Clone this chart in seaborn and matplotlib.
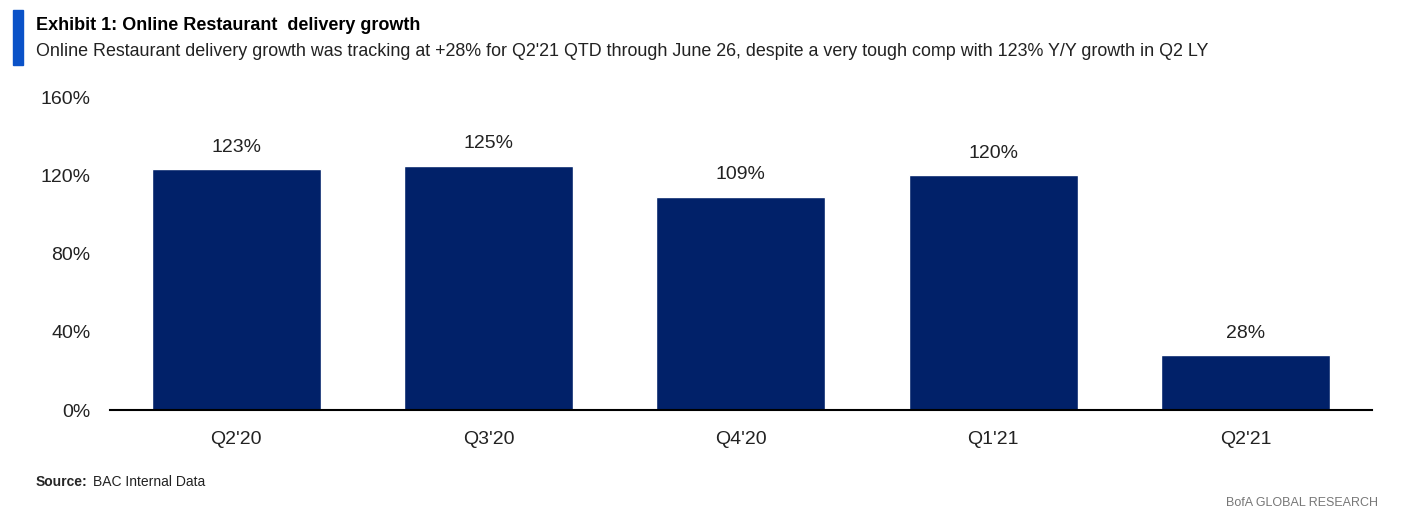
import matplotlib
matplotlib.use("Agg")
import matplotlib.pyplot as plt
import matplotlib.patches as mpatches
import seaborn as sns
import pandas as pd

quarters = ["Q2'20", "Q3'20", "Q4'20", "Q1'21", "Q2'21"]
growth = [123, 125, 109, 120, 28]
y_ticks = [0, 40, 80, 120, 160]

navy = "#012169"
fonts = ["Liberation Sans Narrow", "Liberation Sans", "DejaVu Sans"]

sns.set_theme(style="white")
plt.rcParams["font.family"] = fonts

df = pd.DataFrame({"Quarter": quarters, "Growth": growth})

fig = plt.figure(figsize=(14.04, 5.19), dpi=100)
ax = fig.add_axes([0.0783, 0.21, 0.8987, 0.603])
sns.barplot(data=df, x="Quarter", y="Growth", color=navy, width=0.67,
            saturation=1, ax=ax)

# value labels above bars
for i, v in enumerate(growth):
    ax.text(i, v + 7, f"{v}%", ha="center", va="bottom", fontsize=14, color="#222222")

ax.set_xlim(-0.5, 4.5)
ax.set_ylim(0, 160)
ax.set_yticks(y_ticks)
ax.set_yticklabels([f"{t}%" for t in y_ticks])
ax.set_xlabel("")
ax.set_ylabel("")
ax.tick_params(axis="both", length=0, labelsize=14, colors="#222222")
ax.tick_params(axis="x", pad=15)
ax.tick_params(axis="y", pad=14)
for s in ["top", "right", "left"]:
    ax.spines[s].set_visible(False)
ax.spines["bottom"].set_color("#000000")
ax.spines["bottom"].set_linewidth(1.5)

# header
fig.patches.append(mpatches.Rectangle((13 / 1404, 1 - 65 / 519), 10 / 1404, 55 / 519,
                                      transform=fig.transFigure, color="#0a52c8"))
fig.text(36 / 1404, 1 - 26 / 519, "Exhibit 1: Online Restaurant  delivery growth",
         fontsize=13, fontweight="bold", va="center", color="#000000")
fig.text(36 / 1404, 1 - 52 / 519,
         "Online Restaurant delivery growth was tracking at +28% for Q2'21 QTD through June 26, "
         "despite a very tough comp with 123% Y/Y growth in Q2 LY",
         fontsize=12.9, va="center", color="#222222")

# footer
src = fig.text(36 / 1404, 1 - 482 / 519, "Source:", fontsize=10, fontweight="bold", va="center")
ax.annotate("BAC Internal Data", xy=(1, 0.5), xycoords=src, xytext=(4, 0),
            textcoords="offset points", fontsize=10, va="center", color="#222222")
fig.text(1378 / 1404, 1 - 503 / 519, "BofA GLOBAL RESEARCH", fontsize=9, va="center",
         ha="right", color="#777777")

fig.savefig("out.png", dpi=100)
